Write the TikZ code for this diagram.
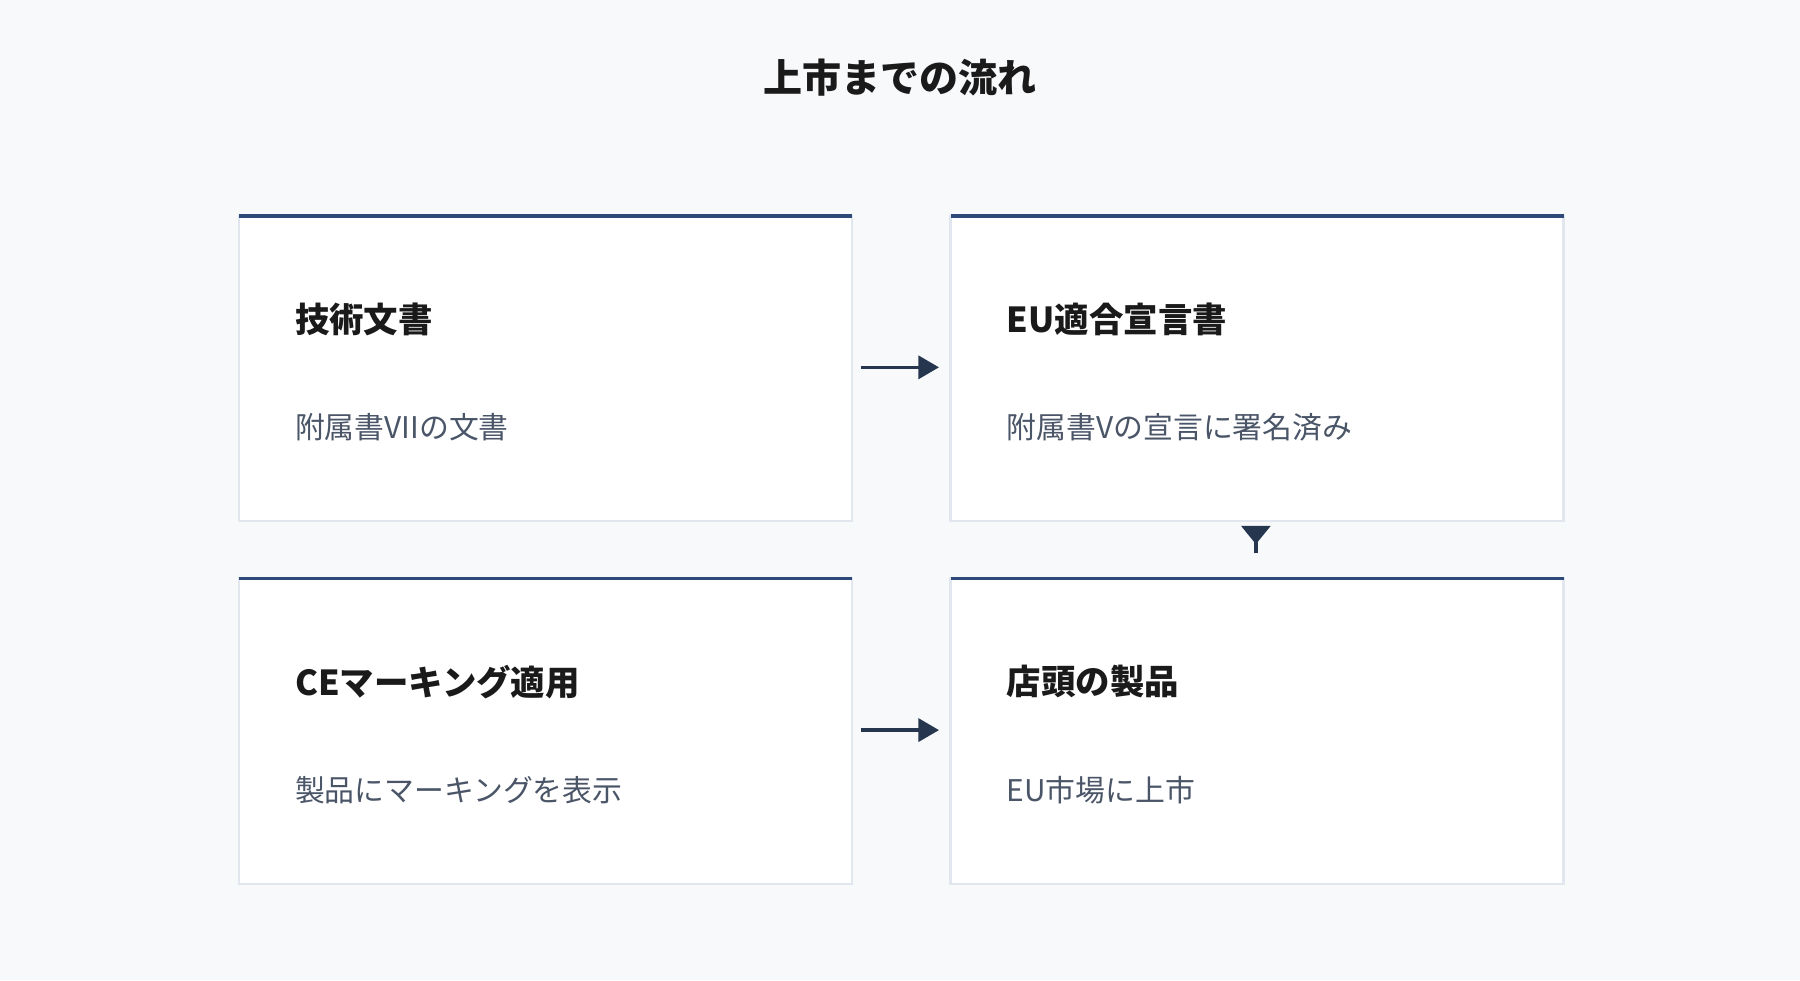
\documentclass[tikz,border=0pt]{standalone}
\usepackage{fontspec}
\setmainfont{Noto Sans CJK JP}
\newfontfamily\jpbold{Noto Sans CJK JP Bold}
\usetikzlibrary{arrows.meta}
\definecolor{bgc}{HTML}{F8F9FB}
\definecolor{topc}{HTML}{2E4A7A}
\definecolor{edgec}{HTML}{E2E6EE}
\definecolor{arrc}{HTML}{27364F}
\definecolor{titc}{HTML}{1A1A1A}
\definecolor{subc}{HTML}{4A5568}
\tikzset{
  card/.style={draw=edgec, line width=1pt, fill=white},
  topbar/.style={draw=topc, line width=1.6pt},
  cardtitle/.style={anchor=west, text=titc, font=\fontsize{15}{18}\selectfont\bfseries},
  cardsub/.style={anchor=west, text=subc, font=\fontsize{13}{16}\selectfont},
  flow/.style={draw=arrc, line width=1.6pt, -{Triangle[length=9pt,width=10pt]}},
}
\begin{document}
\begin{tikzpicture}[x=0.5pt,y=-0.5pt]
\fill[bgc] (0,0) rectangle (1568,854);
\useasboundingbox (0,0) rectangle (1568,854);
\node[text=titc, font=\fontsize{17}{20}\selectfont\bfseries] (title) at (784,68) {上市までの流れ};
% cards
\foreach \n/\x/\y in {a/208/188, b/828/188, c/208/504, d/828/504}{
  \draw[card] (\x,\y) rectangle ++(534,266);
  \draw[topbar] (\x,\y) -- ++(534,0);
  \coordinate (\n) at (\x,\y);
}
\node[cardtitle] (at) at (250,278) {技術文書};
\node[cardsub] (as) at (250,372) {附属書VIIの文書};
\node[cardtitle] (bt) at (870,278) {EU適合宣言書};
\node[cardsub] (bs) at (870,372) {附属書Vの宣言に署名済み};
\node[cardtitle] (ct) at (250,594) {CEマーキング適用};
\node[cardsub] (cs) at (250,688) {製品にマーキングを表示};
\node[cardtitle] (dt) at (870,594) {店頭の製品};
\node[cardsub] (ds) at (870,688) {EU市場に上市};
% arrows
\coordinate (h1s) at (750,320); \coordinate (h1e) at (818,320);
\coordinate (h2s) at (750,636); \coordinate (h2e) at (818,636);
\draw[flow] (h1s) -- (h1e);
\draw[flow] (h2s) -- (h2e);
\coordinate (v1) at (1094,482); \coordinate (v2) at (1094,470);
\draw[arrc, line width=1.6pt] (v1) -- (v2);
\fill[arrc] (1081,458) -- (1107,458) -- (1094,474) -- cycle;
\end{tikzpicture}
\end{document}
